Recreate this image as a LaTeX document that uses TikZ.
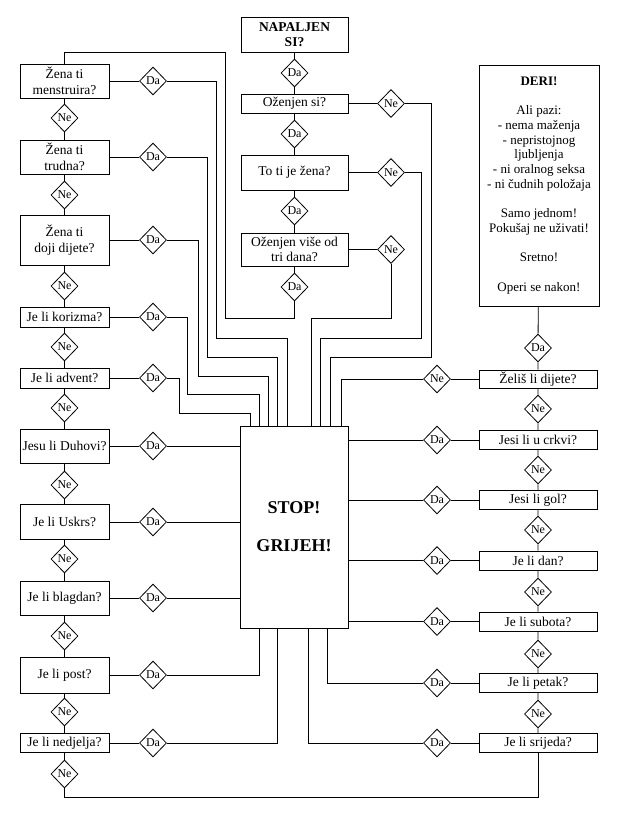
\documentclass[tikz,border=0pt]{standalone}
\usepackage{fontspec}
\setmainfont{Liberation Serif}
\usetikzlibrary{shapes.geometric}
\begin{document}
\begin{tikzpicture}[x=1pt,y=-1pt,line width=0.8pt,
  box/.style={draw,rectangle,inner sep=1pt,align=center,font=\fontsize{13.5}{15.5}\selectfont},
  dia/.style={draw,diamond,minimum width=27pt,minimum height=28pt,inner sep=0pt,font=\fontsize{12}{12}\selectfont,fill=white}]
\useasboundingbox (0,0) rectangle (618,817);
% top column
\node[box,minimum width=107,minimum height=35,font=\bfseries\fontsize{13.5}{15.5}\selectfont] (nap) at (294.5,34.5) {NAPALJEN\\SI?};
\node[dia] (t1) at (294.5,73) {Da};
\node[box,minimum width=107,minimum height=19] (oz) at (294.5,103.5) {Oženjen si?};
\node[dia] (t2) at (294.5,134) {Da};
\node[box,minimum width=107,minimum height=35] (zena) at (294.5,172.5) {To ti je žena?};
\node[dia] (t3) at (294.5,211) {Da};
\node[box,minimum width=107,minimum height=33] (tri) at (294.5,249.5) {Oženjen više od\\tri dana?};
\node[dia] (t4) at (294.5,287) {Da};
\node[dia] (tn1) at (391,103.5) {Ne};
\node[dia] (tn2) at (391,172.5) {Ne};
\node[dia] (tn3) at (391,249.5) {Ne};
% left column
\node[box,minimum width=89,minimum height=34] (l1) at (64.5,81) {Žena ti\\menstruira?};
\node[box,minimum width=89,minimum height=34] (l2) at (64.5,157) {Žena ti\\trudna?};
\node[box,minimum width=89,minimum height=50] (l3) at (64.5,240) {Žena ti\\doji dijete?};
\node[box,minimum width=89,minimum height=20] (l4) at (64.5,317) {Je li korizma?};
\node[box,minimum width=89,minimum height=20] (l5) at (64.5,378) {Je li advent?};
\node[box,minimum width=89,minimum height=34] (l6) at (64.5,446) {Jesu li Duhovi?};
\node[box,minimum width=89,minimum height=35] (l7) at (64.5,522) {Je li Uskrs?};
\node[box,minimum width=89,minimum height=34] (l8) at (64.5,598) {Je li blagdan?};
\node[box,minimum width=89,minimum height=36] (l9) at (64.5,675) {Je li post?};
\node[box,minimum width=89,minimum height=19] (l10) at (64.5,743) {Je li nedjelja?};
\foreach \i/\y in {1/118,2/195,3/286,4/347,5/408,6/485,7/559,8/636,9/712,10/774}
  \node[dia] (ln\i) at (64.5,\y) {Ne};
\foreach \i/\y in {1/81,2/157,3/240,4/317,5/378,6/446,7/522,8/598,9/675,10/743}
  \node[dia] (ld\i) at (153,\y) {Da};
% stop
\node[box,minimum width=108,minimum height=202,font=\bfseries\fontsize{18}{21}\selectfont] (stop) at (294,527) {STOP!\\[17pt]GRIJEH!};
% right column
\node[box,minimum width=120,minimum height=241,font=\fontsize{13}{14.7}\selectfont] (deri) at (539,185.5)
 {\textbf{DERI!}\\[14.7pt]Ali pazi:\\- nema maženja\\- nepristojnog\\ljubljenja\\- ni oralnog seksa\\- ni čudnih položaja\\[14.7pt]Samo jednom!\\Pokušaj ne uživati!\\[14.7pt]Sretno!\\[14.7pt]Operi se nakon!};
\node[dia] (rda) at (538,348) {Da};
\node[box,minimum width=118,minimum height=18] (r0) at (538,379) {Želiš li dijete?};
\node[box,minimum width=118,minimum height=19] (r1) at (538,440) {Jesi li u crkvi?};
\node[box,minimum width=118,minimum height=19] (r2) at (538,500) {Jesi li gol?};
\node[box,minimum width=118,minimum height=19] (r3) at (538,560.5) {Je li dan?};
\node[box,minimum width=118,minimum height=19] (r4) at (538,621.5) {Je li subota?};
\node[box,minimum width=118,minimum height=19] (r5) at (538,683) {Je li petak?};
\node[box,minimum width=118,minimum height=19] (r6) at (538,743) {Je li srijeda?};
\foreach \i/\y in {1/409,2/470,3/530,4/592,5/654,6/714}
  \node[dia] (rn\i) at (538,\y) {Ne};
\node[dia] (rz) at (437,379) {Ne};
\foreach \i/\y in {1/440,2/500,3/560.5,4/621.5,5/683,6/743}
  \node[dia] (rd\i) at (437,\y) {Da};
% top chain
\draw (nap) -- (t1) -- (oz) -- (t2) -- (zena) -- (t3) -- (tri) -- (t4);
\draw (oz) -- (tn1); \draw (zena) -- (tn2); \draw (tri) -- (tn3);
\draw (tn1.east) -| (431,357) -| (330,0 |- stop.north);
\draw (tn2.east) -| (421,338) -| (320.5,0 |- stop.north);
\draw (tn3.south) |- (311,318) -- (311,0 |- stop.north);
\draw (t4.south) |- (225,318) |- (64.5,52) -- (l1.north);
% left chain
\draw (l1) -- (ln1) -- (l2) -- (ln2) -- (l3) -- (ln3) -- (l4) -- (ln4) -- (l5) -- (ln5) -- (l6) -- (ln6) -- (l7) -- (ln7) -- (l8) -- (ln8) -- (l9) -- (ln9) -- (l10) -- (ln10);
\foreach \i in {1,...,10} \draw (l\i) -- (ld\i);
\draw (ld1.east) -| (216,338) -| (287,0 |- stop.north);
\draw (ld2.east) -| (207,357) -| (277,0 |- stop.north);
\draw (ld3.east) -| (198,376) -| (268,0 |- stop.north);
\draw (ld4.east) -| (187,394) -| (259,0 |- stop.north);
\draw (ld5.east) -| (179,413) -| (250.5,0 |- stop.north);
\draw (ld6) -- (stop.west |- ld6);
\draw (ld7) -- (stop.west |- ld7);
\draw (ld8) -- (stop.west |- ld8);
\draw (ld9.east) -| (259,0 |- stop.south);
\draw (ld10.east) -| (277,0 |- stop.south);
\draw (ln10.south) |- (538,797) -- (r6.south);
% right chain
\draw (deri) -- (rda) -- (r0) -- (rn1) -- (r1) -- (rn2) -- (r2) -- (rn3) -- (r3) -- (rn4) -- (r4) -- (rn5) -- (r5) -- (rn6) -- (r6);
\draw (r0) -- (rz);
\draw (rz.west) -| (341,0 |- stop.north);
\foreach \i in {1,...,6} \draw (r\i) -- (rd\i);
\draw (rd1) -- (stop.east |- rd1);
\draw (rd2) -- (stop.east |- rd2);
\draw (rd3) -- (stop.east |- rd3);
\draw (rd4) -- (stop.east |- rd4);
\draw (rd5.west) -| (327.5,0 |- stop.south);
\draw (rd6.west) -| (308.5,0 |- stop.south);
\end{tikzpicture}
\end{document}
